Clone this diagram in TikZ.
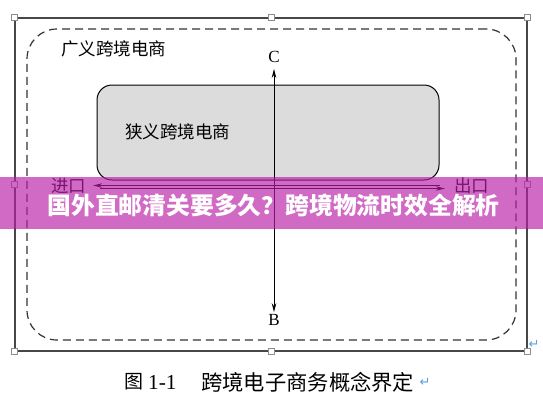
\documentclass[tikz,border=0pt]{standalone}
\usepackage{fontspec}
\setmainfont{Liberation Serif}
\newfontfamily\cjk{Noto Sans CJK SC}
\newfontfamily\symf{DejaVu Sans}
\usetikzlibrary{arrows.meta}
\definecolor{bannerc}{RGB}{185,30,168}
\definecolor{retblue}{RGB}{90,160,225}
\definecolor{boxgray}{RGB}{220,220,220}
\tikzset{
  handle/.style={draw=black!45, fill=white, line width=0.6pt, minimum size=6pt, inner sep=0pt, rectangle},
  cjklbl/.style={font=\cjk\fontsize{17.5}{20}\selectfont, inner sep=0pt},
  letter/.style={font=\fontsize{17}{20}\selectfont, inner sep=0pt},
  arr/.style={-{Stealth[length=9pt,width=4.5pt]}, line width=0.9pt},
  dbl/.style={{Stealth[length=9pt,width=4.5pt]}-{Stealth[length=9pt,width=4.5pt]}, line width=0.9pt},
  capt/.style={font=\fontsize{21.3}{24}\selectfont, inner sep=0pt, anchor=west},
  retmark/.style={font=\symf\fontsize{13}{15}\selectfont, text=retblue, inner sep=0pt}
}
\begin{document}
\begin{tikzpicture}[x=1pt,y=-1pt]
\path[use as bounding box, fill=white] (0,0) rectangle (543,408);
% outer frame
\node[draw=black!72, line width=1.3pt, minimum width=512pt, minimum height=333pt, inner sep=0pt] (frame) at (271,184.5) {};
% dashed wide region
\node[draw=black!80, line width=1.2pt, dash pattern=on 8pt off 5pt, rounded corners=30pt, minimum width=489pt, minimum height=311pt, inner sep=0pt] (wide) at (271.5,184.5) {};
% narrow box
\node[draw=black, fill=boxgray, line width=1pt, rounded corners=15pt, minimum width=342pt, minimum height=95pt, inner sep=0pt] (narrow) at (268,132.5) {};
% labels
\node[cjklbl, anchor=west] (wideLbl) at (61,49) {广义跨境电商};
\node[cjklbl, anchor=west] (narrowLbl) at (125,131.5) {狭义跨境电商};
\node[letter] (C) at (274,57) {C};
\node[letter] (B) at (274,320) {B};
\draw[dbl] ([yshift=-6pt]C.south) -- ([yshift=2pt]B.north);
% import / export
\node[cjklbl] (imp) at (68.5,186) {进口};
\node[cjklbl] (exp) at (471.5,186) {出口};
\coordinate (impStart) at (440,185.5);
\coordinate (expStart) at (100,188.5);
\coordinate (impTip) at ([xshift=7pt]imp.east);
\coordinate (expTip) at ([xshift=-9pt]exp.west);
\draw[arr] (impStart) -- (impStart -| impTip);
\draw[arr] (expStart) -- (expStart -| expTip);
% handles
\foreach \a in {north west,north,north east,east,south east,south,south west,west}
  \node[handle] at (frame.\a) {};
% return marks
\node[retmark] (ret1) at (534,344) {↵};
% banner
\node[fill=bannerc, fill opacity=0.66, minimum width=543pt, minimum height=52pt, inner sep=0pt] (banner) at (271.5,203) {};
\node[font=\cjk\bfseries\fontsize{23.8}{26}\selectfont, text=white, inner sep=0pt] (bannerTxt) at (273.5,205) {国外直邮清关要多久？跨境物流时效全解析};
% caption
\node[capt, font=\cjk\fontsize{19}{24}\selectfont] (capFig) at (124,382) {图};
\node[capt] (capNum) at (148,382.5) {1-1};
\node[capt, font=\cjk\fontsize{21.3}{24}\selectfont] (capTxt) at (201,382) {跨境电子商务概念界定};
\node[retmark, anchor=west] (ret2) at ([xshift=5pt]capTxt.east) {↵};
\end{tikzpicture}
\end{document}
